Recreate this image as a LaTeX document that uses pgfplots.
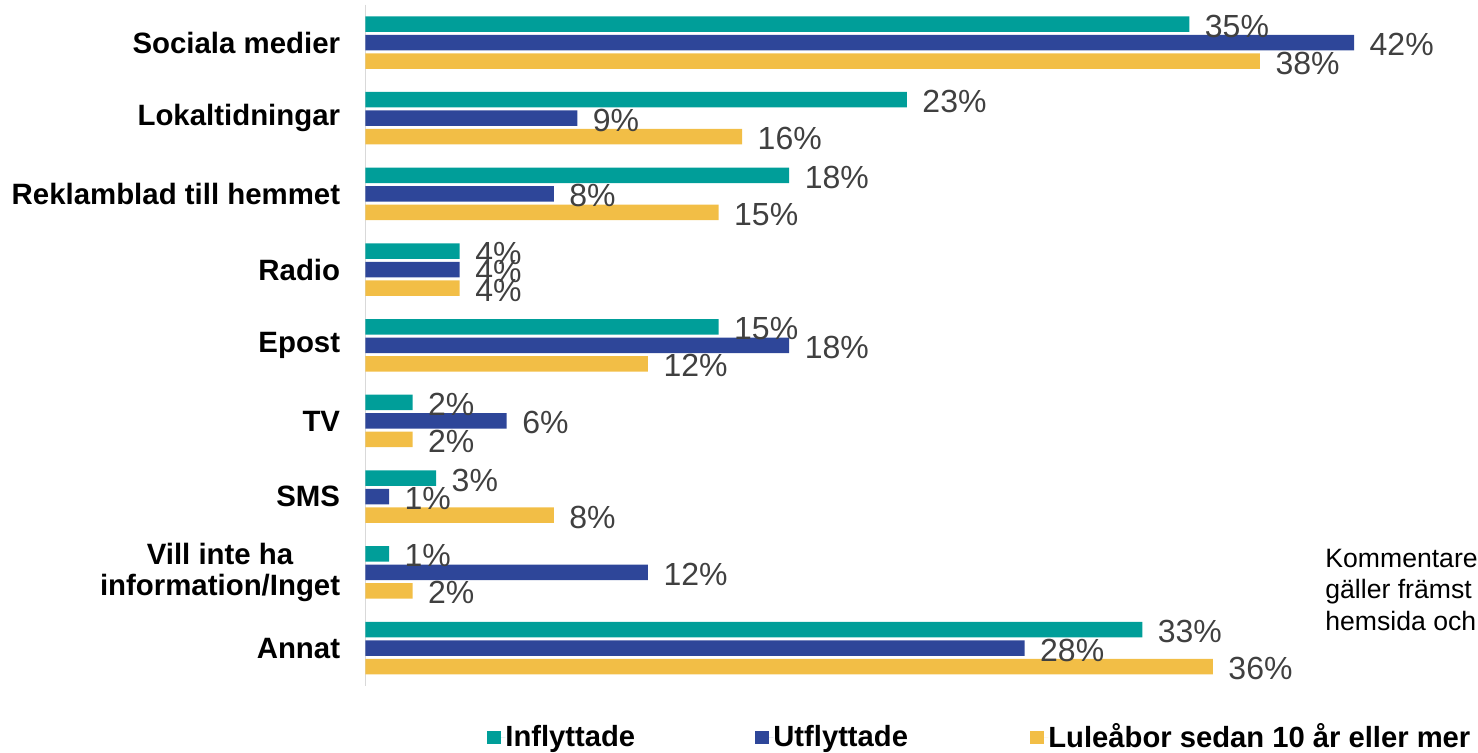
\documentclass[border=0pt]{standalone}
\usepackage{fontspec}
\setmainfont{Liberation Sans}
\usepackage{pgfplots}
\usepackage{pgfplotstable}
\pgfplotsset{compat=1.18}
\definecolor{cteal}{RGB}{0,158,153}
\definecolor{cblue}{RGB}{46,70,153}
\definecolor{cyel}{RGB}{242,190,70}
\definecolor{lblgray}{RGB}{64,64,64}

\pgfplotstableread{
idx infl utfl lulea
0 35 42 38
1 23 9 16
2 18 8 15
3 4 4 4
4 15 18 12
5 2 6 2
6 3 1 8
7 1 12 2
8 33 28 36
}\datatable

\begin{document}
\begin{tikzpicture}
\begin{axis}[
 at={(182.75pt,33.07pt)}, anchor=south west,
 scale only axis, width=494.3pt, height=340.6pt,
 xmin=0, xmax=42, ymin=-0.5, ymax=8.5, y dir=reverse,
 axis x line=none, axis y line*=left,
 y axis line style={draw=black!15, line width=0.75pt},
 xtick=\empty, ytick={0,...,8}, major tick length=0pt,
 yticklabels={Sociala medier, Lokaltidningar, Reklamblad till hemmet, Radio, Epost, TV, SMS, {Vill inte ha\\information/Inget}, Annat},
 yticklabel style={font=\bfseries\fontsize{14.7}{15.5}\selectfont, align=center, inner sep=0pt, xshift=-12.5pt},
 xbar, bar width=0.205, bar shift=0pt,
 clip=false,
 /pgf/number format/assume math mode=true,
 nodes near coords={\pgfmathprintnumber{\pgfplotspointmeta}\%},
 every node near coord/.append style={anchor=west, inner sep=0pt, xshift=7.6pt, yshift=-1pt, font=\fontsize{16}{16}\selectfont, text=lblgray},
 legend columns=3,
 legend cell align=left,
 legend style={at={(0.1229,0)}, anchor=west, yshift=-25.8pt, draw=none, fill=none, inner sep=0pt, column sep=0pt, nodes={inner sep=0pt}, font=\bfseries\fontsize{14.6}{15}\selectfont},
 legend image code/.code={\fill[#1] (0pt,-3.3pt) rectangle (6.6pt,3.3pt); \path (0pt,0pt) -- (9pt,0pt);},
]
\addplot[fill=cteal, draw=none] table[x=infl, y expr=\thisrow{idx}-0.2444]{\datatable};
\addplot[fill=cblue, draw=none] table[x=utfl, y expr=\thisrow{idx}]{\datatable};
\addplot[fill=cyel, draw=none] table[x=lulea, y expr=\thisrow{idx}+0.2444]{\datatable};
\legend{\makebox[125pt][l]{Inflyttade}, \makebox[128.5pt][l]{Utflyttade}, Luleåbor sedan 10 år eller mer}
\end{axis}
\node[anchor=base west, inner sep=0pt, font=\fontsize{13.3}{15.5}\selectfont] at (662.5pt,92.5pt) {Kommentarer};
\node[anchor=base west, inner sep=0pt, font=\fontsize{13.3}{15.5}\selectfont] at (662.5pt,77pt) {gäller främst};
\node[anchor=base west, inner sep=0pt, font=\fontsize{13.3}{15.5}\selectfont] at (662.5pt,61pt) {hemsida och};
\pgfresetboundingbox
\path[use as bounding box] (0,0) rectangle (739pt,376pt);
\end{tikzpicture}
\end{document}
